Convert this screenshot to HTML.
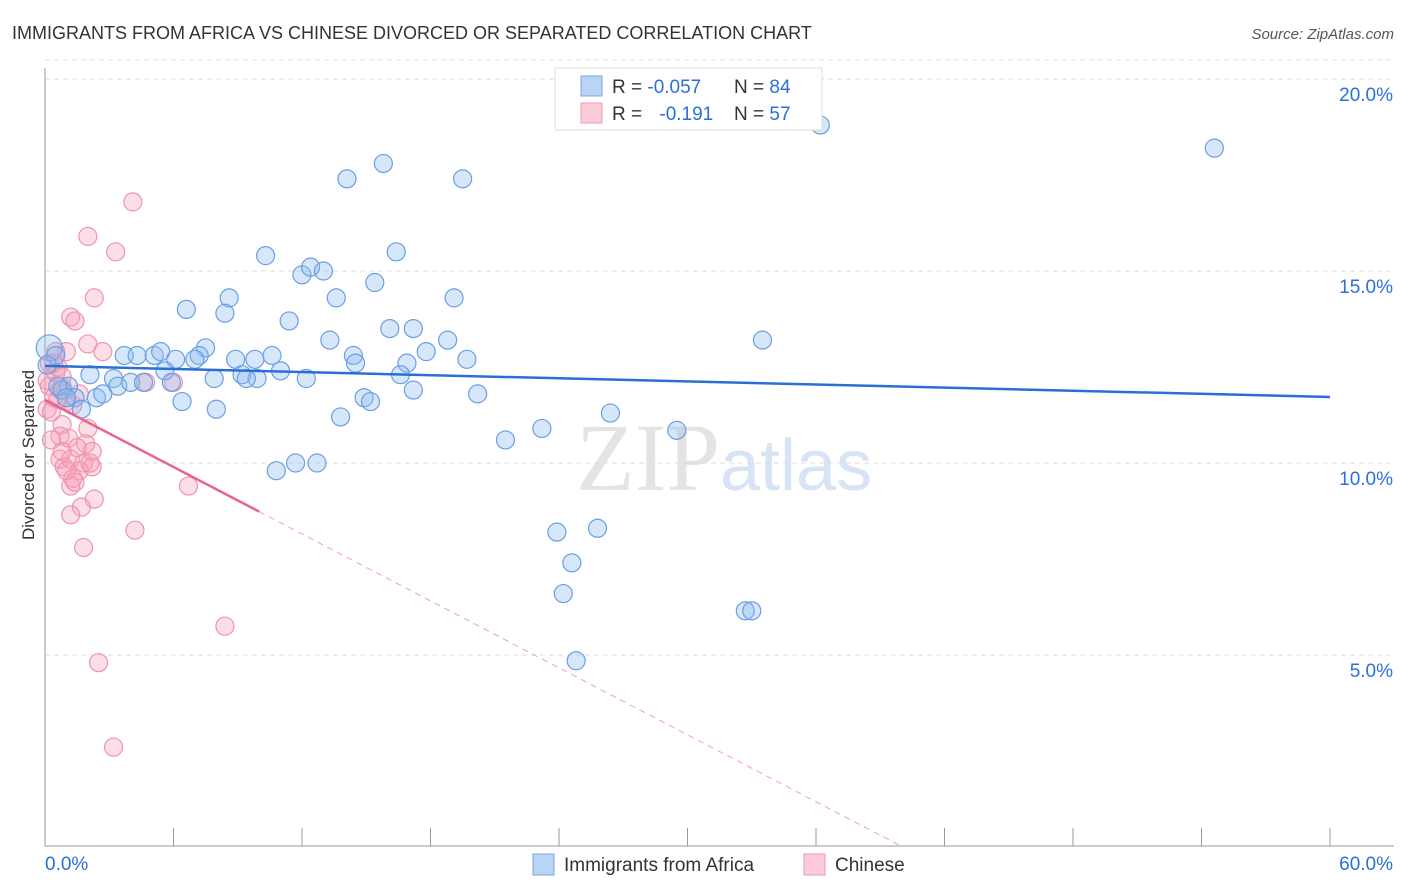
<!DOCTYPE html>
<html><head><meta charset="utf-8"><style>
body{margin:0;background:#fff;font-family:"Liberation Sans",sans-serif}
svg{display:block}
</style></head><body>
<svg id="chart" width="1406" height="892">
<text x="12" y="39" font-size="18" fill="#333">IMMIGRANTS FROM AFRICA VS CHINESE DIVORCED OR SEPARATED CORRELATION CHART</text>
<text x="1394" y="39" font-size="15" fill="#555" font-style="italic" text-anchor="end">Source: ZipAtlas.com</text>
<text transform="translate(34,455) rotate(-90)" font-size="17" fill="#333" text-anchor="middle">Divorced or Separated</text>
<text x="720" y="490" font-size="96" fill="#e4e4e4" text-anchor="end" font-family="Liberation Serif">ZIP</text>
<text x="720" y="490" font-size="72" fill="#d6e4f5">atlas</text>
<g id="grid"></g><g id="axes"></g><g id="pts"></g><g id="trend"></g>
<g>
<rect x="555" y="68" width="267" height="62" fill="#fff" stroke="#ddd"/>
<rect x="581" y="76" width="21" height="20" fill="#b9d4f5" stroke="#7aa6e0"/>
<rect x="581" y="103" width="21" height="20" fill="#fbcbd8" stroke="#ee9bb3"/>
<text x="612" y="93" font-size="19" fill="#333">R = <tspan fill="#2b6fd6">-0.057</tspan></text>
<text x="734" y="93" font-size="19" fill="#333">N = <tspan fill="#2b6fd6">84</tspan></text>
<text x="612" y="120" font-size="19" fill="#333">R = <tspan fill="#2b6fd6" dx="12">-0.191</tspan></text>
<text x="734" y="120" font-size="19" fill="#333">N = <tspan fill="#2b6fd6">57</tspan></text>
</g>
<g>
<rect x="533" y="854" width="21" height="21" fill="#b9d4f5" stroke="#7aa6e0"/>
<text x="564" y="871" font-size="19" fill="#333">Immigrants from Africa</text>
<rect x="804" y="854" width="21" height="21" fill="#fbcbd8" stroke="#ee9bb3"/>
<text x="835" y="871" font-size="19" fill="#333">Chinese</text>
</g>
</svg>
<script>
const yTicks=[5,10,15,20];
const yTickLabels=["5.0%","10.0%","15.0%","20.0%"];
const xTicks=[0,6,12,18,24,30,36,42,48,54,60];
const xTickLabels=["0.0%","60.0%"];
const africaX=[36.2,54.6,14.1,15.8,19.5,10.3,16.4,12.0,12.4,13.0,15.4,13.6,8.6,19.1,6.6,8.4,11.4,16.1,17.2,13.3,18.8,33.5,7.5,17.8,7.2,3.7,4.3,5.1,5.4,6.1,7.0,8.9,9.8,10.6,14.4,14.5,16.9,19.7,5.6,2.1,3.2,11.0,9.2,9.9,7.9,9.4,12.2,16.6,17.2,3.4,4.0,4.6,5.9,6.4,8.0,1.1,0.8,1.4,2.4,2.7,1.7,14.9,15.2,20.2,13.8,26.4,23.2,29.5,21.5,10.8,11.7,12.7,23.9,25.8,24.6,24.2,32.7,33.0,24.8,0.2,0.5,0.1,0.6,1.0];
const africaY=[18.8,18.2,17.4,17.8,17.4,15.4,15.5,14.9,15.1,15.0,14.7,14.3,14.3,14.3,14.0,13.9,13.7,13.5,13.5,13.2,13.2,13.2,13.0,12.9,12.8,12.8,12.8,12.8,12.9,12.7,12.7,12.7,12.7,12.8,12.8,12.6,12.6,12.7,12.4,12.3,12.2,12.4,12.3,12.2,12.2,12.2,12.2,12.3,11.9,12.0,12.1,12.1,12.1,11.6,11.4,12.0,11.9,11.7,11.7,11.8,11.4,11.7,11.6,11.8,11.2,11.3,10.9,10.85,10.6,9.8,10.0,10.0,8.2,8.3,7.4,6.6,6.15,6.15,4.85,13.0,12.8,12.55,12.0,11.7];
const chineseX=[4.1,2.0,3.3,2.3,1.2,1.4,1.0,2.0,2.7,0.5,0.2,0.6,0.2,0.8,1.0,0.4,0.1,6.0,4.7,0.8,0.7,0.3,2.0,1.9,2.2,0.7,0.9,1.2,1.8,2.2,1.6,1.3,1.2,1.4,2.3,1.7,6.7,1.2,4.2,1.8,8.4,2.5,3.2,0.1,0.5,0.7,0.3,1.1,1.5,0.8,2.1,1.0,0.4,0.6,1.3,1.6,0.8];
const chineseY=[16.8,15.9,15.5,14.3,13.8,13.7,12.9,13.1,12.9,12.9,12.6,12.5,12.0,12.0,11.6,11.7,11.4,12.1,12.1,11.0,10.7,10.6,10.9,10.5,10.3,10.1,9.9,10.1,10.0,9.9,9.8,9.6,9.4,9.5,9.06,8.85,9.4,8.65,8.25,7.8,5.75,4.8,2.6,12.15,12.35,11.9,11.33,10.65,10.4,10.3,10.0,9.8,12.6,11.66,11.5,11.8,12.25];
const africaTrend=[12.53,11.72];
const chineseTrend=[11.64,-0.2906];
const X0=45,X1=1330,Y0=847,YPX=38.4;
const sx=v=>X0+(X1-X0)*v/60, sy=v=>Y0-v*YPX;
const NS="http://www.w3.org/2000/svg";
function mk(parent,tag,attrs){const e=document.createElementNS(NS,tag);for(const k in attrs)e.setAttribute(k,attrs[k]);document.getElementById(parent).appendChild(e);return e;}
yTicks.forEach((t,i)=>{
 const l=mk('grid','line',{x1:X0,x2:1394,y1:sy(t),y2:sy(t),stroke:'#ddd','stroke-dasharray':'5,4'});
 
 
 const tx=mk('axes','text',{x:1393,y:sy(t)+22,'font-size':19,fill:'#2b6fd6','text-anchor':'end'});
 tx.textContent=yTickLabels[i];
 
 
});
const tg=mk('grid','line',{x1:X0,x2:1394,y1:sy(20.5),y2:sy(20.5),stroke:'#ddd','stroke-dasharray':'5,4'});


const ya=mk('axes','line',{x1:X0,x2:X0,y1:68,y2:846,stroke:'#999'});


const xa=mk('axes','line',{x1:X0,x2:1394,y1:846,y2:846,stroke:'#999'});


xTicks.forEach(t=>{
 const l=mk('axes','line',{x1:sx(t),x2:sx(t),y1:828,y2:846,stroke:'#999'});
 
 
});
[[0,'start',45],[60,'end',1393]].forEach((a,i)=>{
 const tx=mk('axes','text',{x:a[2],y:870,'font-size':19,fill:'#2b6fd6','text-anchor':a[1]});
 tx.textContent=xTickLabels[i];
 
 
});
chineseX.forEach((x,i)=>{
 const c=mk('pts','circle',{cx:sx(x),cy:sy(chineseY[i]),r:9,fill:'rgba(246,160,185,0.35)',stroke:'#ee94ae','stroke-width':1.2});
 
 
});
africaX.forEach((x,i)=>{
 const c=mk('pts','circle',{cx:sx(x),cy:sy(africaY[i]),r:i==79?13:9,fill:'rgba(140,185,240,0.35)',stroke:'#6a9fe2','stroke-width':1.2});
 
 
});
const bl=mk('trend','line',{x1:sx(0),y1:sy(africaTrend[0]),x2:sx(60),y2:sy(africaTrend[1]),stroke:'#2a6fd8','stroke-width':2.5});


const pe=10, xz=-chineseTrend[0]/chineseTrend[1];
const pl=mk('trend','line',{x1:sx(0),y1:sy(chineseTrend[0]),x2:sx(pe),y2:sy(chineseTrend[0]+chineseTrend[1]*pe),stroke:'#e8638e','stroke-width':2.5});


const pd=mk('trend','line',{x1:sx(pe),y1:sy(chineseTrend[0]+chineseTrend[1]*pe),x2:sx(xz),y2:sy(0),stroke:'#eea0b8','stroke-width':1,'stroke-dasharray':'6,5'});


</script>
</body></html>
